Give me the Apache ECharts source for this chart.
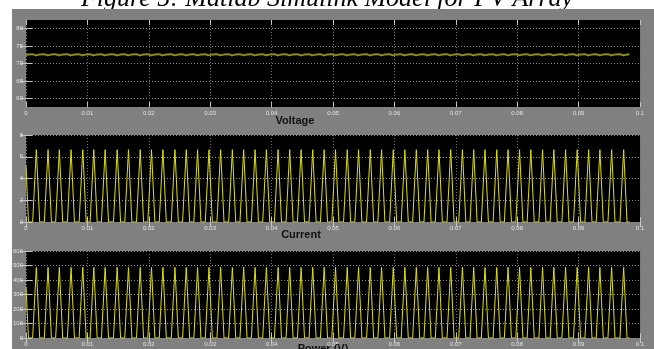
<!DOCTYPE html>
<html>
<head>
<meta charset="utf-8">
<script src="https://cdn.jsdelivr.net/npm/echarts@6/dist/echarts.min.js"></script>
<style>
  html, body { margin: 0; padding: 0; background: #fff; }
  #chart { width: 654px; height: 349px; }
</style>
</head>
<body>
<div id="chart"></div>
<script>
// Scope traces: time in milliseconds, breakpoints of each pulse (start, peak, end)
const timeMs = [
  0, 0.40,
  1.08, 1.68, 2.23,   2.99, 3.59, 4.14,   4.83, 5.43, 5.98,   6.74, 7.34, 7.89,
  8.65, 9.25, 9.80,   10.44, 11.04, 11.59, 12.29, 12.89, 13.44, 14.25, 14.85, 15.40,
  16.09, 16.69, 17.24, 18.00, 18.60, 19.15, 19.84, 20.44, 20.99, 21.70, 22.30, 22.85,
  23.66, 24.26, 24.81, 25.50, 26.10, 26.65, 27.34, 27.94, 28.49, 29.20, 29.80, 30.35,
  31.10, 31.70, 32.25, 33.01, 33.61, 34.16, 34.85, 35.45, 36.00, 36.71, 37.31, 37.86,
  38.55, 39.15, 39.70, 40.46, 41.06, 41.61, 42.35, 42.95, 43.50, 44.21, 44.81, 45.36,
  46.10, 46.70, 47.25, 47.96, 48.56, 49.11, 49.81, 50.41, 50.96, 51.72, 52.32, 52.87,
  53.56, 54.16, 54.71, 55.47, 56.07, 56.62, 57.31, 57.91, 58.46, 59.22, 59.82, 60.37,
  61.11, 61.71, 62.26, 62.97, 63.57, 64.12, 64.82, 65.42, 65.97, 66.66, 67.26, 67.81,
  68.57, 69.17, 69.72, 70.48, 71.08, 71.63, 72.32, 72.92, 73.47, 74.16, 74.76, 75.31,
  76.07, 76.67, 77.22, 77.91, 78.51, 79.06, 79.78, 80.38, 80.93, 81.62, 82.22, 82.77,
  83.53, 84.13, 84.68, 85.37, 85.97, 86.52, 87.28, 87.88, 88.43, 89.17, 89.77, 90.32,
  91.03, 91.63, 92.18, 92.87, 93.47, 94.02, 94.78, 95.38, 95.93, 96.74, 97.34, 97.89,
  98.30
];

const voltageV = [
  72.40, 72.60,
  72.65, 72.35, 72.60, 72.65, 72.35, 72.60, 72.65, 72.35, 72.60, 72.65, 72.35, 72.60,
  72.65, 72.35, 72.60, 72.65, 72.35, 72.60, 72.65, 72.35, 72.60, 72.65, 72.35, 72.60,
  72.65, 72.35, 72.60, 72.65, 72.35, 72.60, 72.65, 72.35, 72.60, 72.65, 72.35, 72.60,
  72.65, 72.35, 72.60, 72.65, 72.35, 72.60, 72.65, 72.35, 72.60, 72.65, 72.35, 72.60,
  72.65, 72.35, 72.60, 72.65, 72.35, 72.60, 72.65, 72.35, 72.60, 72.65, 72.35, 72.60,
  72.65, 72.35, 72.60, 72.65, 72.35, 72.60, 72.65, 72.35, 72.60, 72.65, 72.35, 72.60,
  72.65, 72.35, 72.60, 72.65, 72.35, 72.60, 72.65, 72.35, 72.60, 72.65, 72.35, 72.60,
  72.65, 72.35, 72.60, 72.65, 72.35, 72.60, 72.65, 72.35, 72.60, 72.65, 72.35, 72.60,
  72.65, 72.35, 72.60, 72.65, 72.35, 72.60, 72.65, 72.35, 72.60, 72.65, 72.35, 72.60,
  72.65, 72.35, 72.60, 72.65, 72.35, 72.60, 72.65, 72.35, 72.60, 72.65, 72.35, 72.60,
  72.65, 72.35, 72.60, 72.65, 72.35, 72.60, 72.65, 72.35, 72.60, 72.65, 72.35, 72.60,
  72.65, 72.35, 72.60, 72.65, 72.35, 72.60, 72.65, 72.35, 72.60, 72.65, 72.35, 72.60,
  72.65, 72.35, 72.60, 72.65, 72.35, 72.60, 72.65, 72.35, 72.60, 72.65, 72.35, 72.60,
  72.65
];

const currentA = [
  5.2, 0,
  0, 6.65, 0,  0, 6.65, 0,  0, 6.65, 0,  0, 6.65, 0,
  0, 6.65, 0,  0, 6.65, 0,  0, 6.65, 0,  0, 6.65, 0,
  0, 6.65, 0,  0, 6.65, 0,  0, 6.65, 0,  0, 6.65, 0,
  0, 6.65, 0,  0, 6.65, 0,  0, 6.65, 0,  0, 6.65, 0,
  0, 6.65, 0,  0, 6.65, 0,  0, 6.65, 0,  0, 6.65, 0,
  0, 6.65, 0,  0, 6.65, 0,  0, 6.65, 0,  0, 6.65, 0,
  0, 6.65, 0,  0, 6.65, 0,  0, 6.65, 0,  0, 6.65, 0,
  0, 6.65, 0,  0, 6.65, 0,  0, 6.65, 0,  0, 6.65, 0,
  0, 6.65, 0,  0, 6.65, 0,  0, 6.65, 0,  0, 6.65, 0,
  0, 6.65, 0,  0, 6.65, 0,  0, 6.65, 0,  0, 6.65, 0,
  0, 6.65, 0,  0, 6.65, 0,  0, 6.65, 0,  0, 6.65, 0,
  0, 6.65, 0,  0, 6.65, 0,  0, 6.65, 0,  0, 6.65, 0,
  0, 6.65, 0,  0, 6.65, 0,  0, 6.65, 0,  0, 6.65, 0,
  0
];

const powerW = [
  350, 0,
  0, 487, 0,  0, 487, 0,  0, 487, 0,  0, 487, 0,
  0, 487, 0,  0, 487, 0,  0, 487, 0,  0, 487, 0,
  0, 487, 0,  0, 487, 0,  0, 487, 0,  0, 487, 0,
  0, 487, 0,  0, 487, 0,  0, 487, 0,  0, 487, 0,
  0, 487, 0,  0, 487, 0,  0, 487, 0,  0, 487, 0,
  0, 487, 0,  0, 487, 0,  0, 487, 0,  0, 487, 0,
  0, 487, 0,  0, 487, 0,  0, 487, 0,  0, 487, 0,
  0, 487, 0,  0, 487, 0,  0, 487, 0,  0, 487, 0,
  0, 487, 0,  0, 487, 0,  0, 487, 0,  0, 487, 0,
  0, 487, 0,  0, 487, 0,  0, 487, 0,  0, 487, 0,
  0, 487, 0,  0, 487, 0,  0, 487, 0,  0, 487, 0,
  0, 487, 0,  0, 487, 0,  0, 487, 0,  0, 487, 0,
  0, 487, 0,  0, 487, 0,  0, 487, 0,  0, 487, 0,
  0
];

// Axis ranges and ticks
const timeRangeMs = [0, 100];
const timeStepMs = 10;
const voltageRange = [57.5, 82.5];
const voltageTicks = [60, 65, 70, 75, 80];
const currentRange = [0, 8];
const currentStep = 2;
const powerRange = [0, 600];
const powerStep = 100;

const panelTitles = ['Voltage', 'Current', 'Power (V)'];
const caption = 'Figure 5: Matlab Simulink Model for PV Array';

const chart = echarts.init(document.getElementById('chart'), null, { renderer: 'canvas' });

const labelColor = '#e4e4e4';
const tickColor = '#c4c4c4';
const traceColor = '#dede14';
const fontFamily = '"Liberation Sans", Arial, sans-serif';

const grids = [
  { left: 26, right: 14, top: 20, height: 87 },
  { left: 26, right: 14, top: 135, height: 87 },
  { left: 26, right: 14, top: 251, height: 87 }
].map(g => Object.assign(g, { show: true, backgroundColor: '#000', borderWidth: 0 }));

const xAxes = [];
const yAxes = [];
grids.forEach((g, i) => {
  xAxes.push({
    type: 'value', gridIndex: i, position: 'bottom',
    min: timeRangeMs[0], max: timeRangeMs[1], interval: timeStepMs,
    axisLine: { show: false },
    axisTick: { show: true, inside: true, length: 5, lineStyle: { color: tickColor, width: 1 } },
    axisLabel: {
      show: true, fontSize: 6, color: labelColor, margin: 3, fontFamily,
      formatter: v => (v === 0 ? '0' : String(v / 1000))
    },
    splitLine: { show: true, lineStyle: { color: '#6c6c6c', type: [1, 2], width: 1 } }
  });
  xAxes.push({
    type: 'value', gridIndex: i, position: 'top',
    min: timeRangeMs[0], max: timeRangeMs[1], interval: timeStepMs,
    axisLine: { show: false },
    axisTick: { show: true, inside: true, length: 5, lineStyle: { color: tickColor, width: 1 } },
    axisLabel: { show: false },
    splitLine: { show: false }
  });
});

function yPair(i, range, step, custom) {
  const base = {
    type: 'value', gridIndex: i, min: range[0], max: range[1],
    axisLine: { show: false }
  };
  if (step) base.interval = step;
  const left = Object.assign({}, base, {
    position: 'left',
    axisTick: { show: true, inside: true, length: 6, lineStyle: { color: tickColor, width: 1 } },
    axisLabel: { show: true, fontSize: 6, color: labelColor, margin: 3, fontFamily },
    splitLine: { show: true, lineStyle: { color: '#8e8e8e', type: [1, 2], width: 1 } }
  });
  const right = Object.assign({}, base, {
    position: 'right',
    axisTick: { show: true, inside: true, length: 6, lineStyle: { color: tickColor, width: 1 } },
    axisLabel: { show: false },
    splitLine: { show: false }
  });
  if (custom) {
    left.axisTick.customValues = custom;
    left.axisLabel.customValues = custom;
    left.splitLine.customValues = custom;
    right.axisTick.customValues = custom;
  }
  yAxes.push(left, right);
}
yPair(0, voltageRange, null, voltageTicks);
yPair(1, currentRange, currentStep, null);
yPair(2, powerRange, powerStep, null);

const zip = vals => timeMs.map((t, k) => [t, vals[k]]);

const series = [
  {
    name: 'Voltage', type: 'line', xAxisIndex: 0, yAxisIndex: 0,
    data: zip(voltageV), showSymbol: false, smooth: 0.4,
    lineStyle: { color: '#8e8e1c', width: 2 }
  },
  {
    name: 'Current', type: 'line', xAxisIndex: 2, yAxisIndex: 2,
    data: zip(currentA), showSymbol: false,
    lineStyle: { color: traceColor, width: 1 }
  },
  {
    name: 'Power', type: 'line', xAxisIndex: 4, yAxisIndex: 4,
    data: zip(powerW), showSymbol: false,
    lineStyle: { color: traceColor, width: 1 }
  }
];

const titleFont = 'bold 11px ' + fontFamily;
const graphic = [
  {
    type: 'text', z: -20,
    style: { text: caption, x: 327, y: -1, fill: '#000', font: 'italic 26px "Liberation Serif", "Times New Roman", serif', align: 'center', verticalAlign: 'middle' }
  },
  { type: 'rect', z: -10, shape: { x: 12, y: 9, width: 642, height: 340 }, style: { fill: '#808080' } },
  { type: 'text', z: 10, style: { text: panelTitles[0], x: 295, y: 121, fill: '#111', font: titleFont, align: 'center', verticalAlign: 'middle' } },
  { type: 'text', z: 10, style: { text: panelTitles[1], x: 301, y: 235, fill: '#111', font: titleFont, align: 'center', verticalAlign: 'middle' } },
  { type: 'text', z: 10, style: { text: panelTitles[2], x: 323, y: 349, fill: '#111', font: titleFont, align: 'center', verticalAlign: 'middle' } }
];

chart.setOption({
  animation: false,
  backgroundColor: '#fff',
  grid: grids,
  xAxis: xAxes,
  yAxis: yAxes,
  series,
  graphic
});
</script>
</body>
</html>
